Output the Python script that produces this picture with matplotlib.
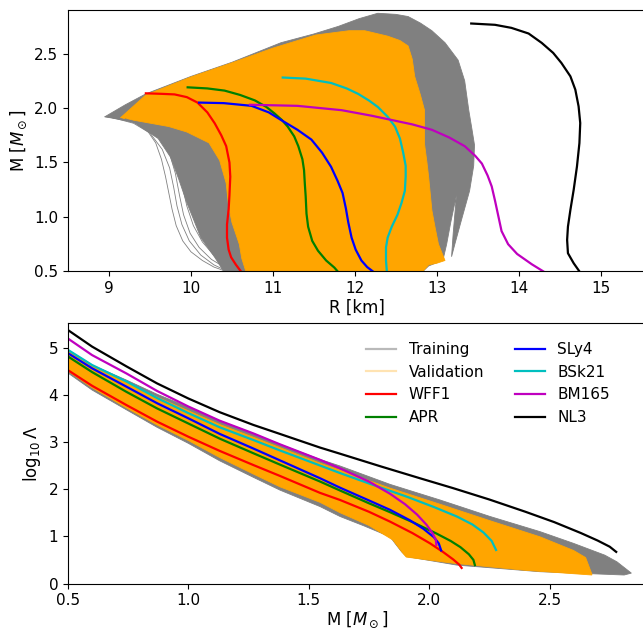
import numpy as np
import matplotlib
matplotlib.use("Agg")
import matplotlib.pyplot as plt
from matplotlib.lines import Line2D

# ---- mass-radius curves (R [km], M [Msun]) ----
wff1_r = [9.45, 9.65, 9.80, 9.95, 10.08, 10.20, 10.29, 10.37, 10.43, 10.47, 10.48, 10.47,
          10.46, 10.44, 10.44, 10.46, 10.49, 10.55, 10.61]
wff1_m = [2.135, 2.13, 2.125, 2.10, 2.05, 1.96, 1.86, 1.75, 1.65, 1.50, 1.37, 1.20,
          1.07, 0.93, 0.81, 0.70, 0.63, 0.56, 0.50]
apr_r = [9.96, 10.20, 10.41, 10.60, 10.78, 10.92, 11.02, 11.11, 11.18, 11.26, 11.31, 11.36,
         11.38, 11.39, 11.40, 11.41, 11.43, 11.48, 11.55, 11.65, 11.75, 11.79]
apr_m = [2.19, 2.18, 2.16, 2.12, 2.07, 2.01, 1.95, 1.89, 1.83, 1.74, 1.65, 1.53,
         1.43, 1.30, 1.19, 1.03, 0.91, 0.78, 0.69, 0.60, 0.535, 0.50]
sly4_r = [10.10, 10.40, 10.74, 10.95, 11.10, 11.30, 11.47, 11.60, 11.71, 11.79, 11.85,
          11.89, 11.92, 11.96, 12.01, 12.08, 12.15, 12.22]
sly4_m = [2.05, 2.045, 2.02, 1.96, 1.89, 1.80, 1.71, 1.59, 1.46, 1.33, 1.22,
          1.08, 0.95, 0.81, 0.70, 0.60, 0.54, 0.50]
bsk21_r = [11.12, 11.40, 11.71, 11.90, 12.04, 12.17, 12.28, 12.40, 12.49, 12.55, 12.59,
           12.62, 12.62, 12.61, 12.57, 12.52, 12.45, 12.40, 12.38, 12.38, 12.39]
bsk21_m = [2.28, 2.27, 2.23, 2.18, 2.13, 2.07, 2.01, 1.92, 1.83, 1.72, 1.59,
           1.47, 1.37, 1.24, 1.13, 1.02, 0.91, 0.81, 0.72, 0.60, 0.50]
bm165_r = [10.72, 11.30, 11.84, 12.20, 12.45, 12.70, 12.94, 13.15, 13.34, 13.47, 13.55,
           13.62, 13.67, 13.71, 13.75, 13.79, 13.87, 13.98, 14.16, 14.30]
bm165_m = [2.03, 2.02, 1.98, 1.93, 1.89, 1.85, 1.80, 1.73, 1.65, 1.56, 1.49,
           1.38, 1.28, 1.15, 1.01, 0.87, 0.75, 0.66, 0.565, 0.50]
nl3_r = [13.42, 13.71, 13.91, 14.12, 14.28, 14.42, 14.52, 14.63, 14.69, 14.73, 14.75,
         14.74, 14.71, 14.67, 14.63, 14.60, 14.59, 14.60, 14.67, 14.74]
nl3_m = [2.776, 2.764, 2.736, 2.684, 2.598, 2.506, 2.414, 2.291, 2.169, 2.015, 1.862,
         1.678, 1.463, 1.249, 1.065, 0.911, 0.789, 0.667, 0.575, 0.50]

# envelopes of the training / validation families in the M-R plane
train_r = [8.95, 9.20, 9.45, 10.0, 10.5, 11.1, 11.5, 11.8, 12.05, 12.28, 12.50, 12.65,
           12.80, 12.94, 13.10, 13.26, 13.34, 13.39, 13.43, 13.46, 13.45, 13.40, 13.30,
           13.22, 13.18, 13.20, 13.24, 13.17, 13.12, 13.08, 13.00, 12.90, 12.83,
           10.40, 10.29, 10.12, 10.02, 9.95, 9.85, 9.75, 9.60, 9.30, 8.95]
train_m = [1.92, 2.03, 2.13, 2.29, 2.42, 2.60, 2.68, 2.75, 2.82, 2.87, 2.86, 2.84,
           2.78, 2.71, 2.60, 2.44, 2.25, 1.98, 1.80, 1.66, 1.47, 1.24, 0.97,
           0.75, 0.635, 0.85, 1.20, 0.95, 0.75, 0.62, 0.58, 0.55, 0.50,
           0.50, 0.63, 0.81, 1.00, 1.13, 1.35, 1.55, 1.72, 1.87, 1.92]
val_r = [9.14, 9.45, 10.0, 10.5, 11.0, 11.52, 11.93, 12.12, 12.40, 12.55, 12.65, 12.70,
         12.73, 12.80, 12.85, 12.85, 12.88, 12.90, 12.94, 12.98, 13.02, 13.10, 13.00,
         12.90, 12.83, 10.67, 10.62, 10.59, 10.50, 10.46, 10.43, 10.35, 10.22, 9.95,
         9.73, 9.14]
val_m = [1.91, 2.12, 2.285, 2.415, 2.55, 2.67, 2.71, 2.71, 2.66, 2.62, 2.57, 2.45,
         2.29, 2.12, 1.98, 1.67, 1.50, 1.37, 1.06, 0.90, 0.75, 0.60, 0.575,
         0.56, 0.50, 0.50, 0.62, 0.75, 0.95, 1.10, 1.31, 1.52, 1.68, 1.78,
         1.83, 1.91]
# a few of the separated training curves on the low-R side
sparse_r = [[8.95, 9.15, 9.33, 9.47, 9.57, 9.64, 9.69, 9.73, 9.77, 9.82, 9.90, 10.0, 10.14, 10.28, 10.43],
            [9.05, 9.30, 9.50, 9.65, 9.74, 9.79, 9.83, 9.89, 9.98, 10.12, 10.28, 10.45],
            [9.10, 9.40, 9.60, 9.74, 9.81, 9.86, 9.91, 9.99, 10.10, 10.25, 10.45],
            [9.20, 9.50, 9.70, 9.82, 9.89, 9.95, 10.03, 10.14, 10.30, 10.50]]
sparse_m = [[1.92, 1.90, 1.86, 1.79, 1.68, 1.53, 1.37, 1.22, 1.07, 0.92, 0.78, 0.68, 0.60, 0.54, 0.50],
            [1.91, 1.86, 1.77, 1.62, 1.45, 1.27, 1.10, 0.93, 0.78, 0.65, 0.56, 0.50],
            [1.91, 1.85, 1.75, 1.58, 1.40, 1.20, 1.02, 0.85, 0.72, 0.61, 0.52],
            [1.90, 1.83, 1.71, 1.52, 1.30, 1.10, 0.92, 0.77, 0.63, 0.52]]

# ---- tidal deformability curves (M, log10 Lambda) ----
wff1_ml = [0.5, 0.6, 0.743, 0.87, 1.0, 1.13, 1.27, 1.38, 1.547, 1.63, 1.75, 1.838, 1.93,
           2.004, 2.06, 2.10, 2.125, 2.135]
wff1_l = [4.52, 4.19, 3.78, 3.43, 3.11, 2.81, 2.51, 2.28, 1.92, 1.77, 1.52, 1.31, 1.07,
          0.85, 0.66, 0.51, 0.40, 0.33]
apr_ml = [0.5, 0.6, 0.743, 0.87, 1.0, 1.13, 1.27, 1.38, 1.547, 1.63, 1.75, 1.838, 1.94,
          2.03, 2.09, 2.13, 2.165, 2.184, 2.19]
apr_l = [4.81, 4.48, 4.06, 3.71, 3.39, 3.07, 2.76, 2.52, 2.16, 1.97, 1.70, 1.51, 1.28,
         1.06, 0.90, 0.77, 0.62, 0.50, 0.39]
sly4_ml = [0.5, 0.6, 0.743, 0.87, 1.0, 1.13, 1.27, 1.38, 1.547, 1.63, 1.75, 1.838, 1.92,
           1.976, 2.02, 2.04, 2.05]
sly4_l = [4.88, 4.56, 4.17, 3.82, 3.50, 3.17, 2.86, 2.61, 2.23, 2.03, 1.76, 1.56, 1.34,
          1.16, 0.98, 0.85, 0.70]
bsk21_ml = [0.5, 0.6, 0.743, 0.87, 1.0, 1.13, 1.27, 1.38, 1.547, 1.63, 1.75, 1.907, 2.02,
            2.115, 2.18, 2.226, 2.26, 2.278]
bsk21_l = [4.95, 4.63, 4.28, 3.93, 3.61, 3.31, 3.04, 2.82, 2.50, 2.34, 2.12, 1.84, 1.62,
           1.42, 1.25, 1.08, 0.90, 0.71]
bm165_ml = [0.5, 0.6, 0.743, 0.87, 1.0, 1.13, 1.27, 1.38, 1.547, 1.63, 1.75, 1.838, 1.90,
            1.95, 1.99, 2.015, 2.028, 2.03]
bm165_l = [5.19, 4.84, 4.45, 4.08, 3.75, 3.45, 3.18, 2.95, 2.62, 2.44, 2.16, 1.90, 1.68,
           1.46, 1.24, 1.06, 0.92, 0.82]
nl3_ml = [0.5, 0.6, 0.743, 0.87, 1.0, 1.13, 1.27, 1.38, 1.547, 1.63, 1.80, 1.962, 2.10,
          2.25, 2.40, 2.52, 2.63, 2.70, 2.75, 2.777]
nl3_l = [5.37, 5.02, 4.60, 4.24, 3.92, 3.63, 3.36, 3.17, 2.88, 2.75, 2.48, 2.23, 2.02,
         1.78, 1.52, 1.30, 1.07, 0.91, 0.78, 0.67]

train_ml = [0.5, 0.6, 0.743, 0.87, 1.0, 1.13, 1.27, 1.38, 1.547, 1.63, 1.838, 2.045, 2.253,
            2.46, 2.6, 2.73, 2.78, 2.84, 2.81, 2.46, 2.115, 1.907, 1.886, 1.86, 1.838,
            1.73, 1.63, 1.547, 1.38, 1.27, 1.13, 1.0, 0.87, 0.743, 0.6, 0.5]
train_l = [4.95, 4.63, 4.31, 4.01, 3.74, 3.45, 3.18, 2.95, 2.63, 2.49, 2.10, 1.77, 1.42,
           1.10, 0.85, 0.60, 0.46, 0.22, 0.18, 0.25, 0.39, 0.57, 0.67, 0.84, 0.99,
           1.22, 1.42, 1.63, 1.98, 2.25, 2.60, 2.97, 3.31, 3.68, 4.10, 4.46]
val_ml = [0.5, 0.6, 0.743, 0.87, 1.0, 1.13, 1.27, 1.38, 1.547, 1.63, 1.838, 2.045, 2.253,
          2.46, 2.6, 2.65, 2.676, 2.676, 2.4, 2.1, 1.905, 1.893, 1.85, 1.75, 1.63, 1.547,
          1.38, 1.27, 1.13, 1.0, 0.87, 0.743, 0.6, 0.5]
val_l = [4.93, 4.60, 4.26, 3.95, 3.66, 3.37, 3.10, 2.88, 2.55, 2.40, 2.02, 1.68, 1.33,
         0.99, 0.70, 0.55, 0.20, 0.18, 0.28, 0.43, 0.56, 0.63, 0.92, 1.23, 1.50, 1.72,
         2.05, 2.32, 2.67, 3.03, 3.36, 3.72, 4.15, 4.50]

names = ["WFF1", "APR", "SLy4", "BSk21", "BM165", "NL3"]
colors = ["r", "g", "b", "c", "m", "k"]
mr_curves = [(wff1_r, wff1_m), (apr_r, apr_m), (sly4_r, sly4_m),
             (bsk21_r, bsk21_m), (bm165_r, bm165_m), (nl3_r, nl3_m)]
ml_curves = [(wff1_ml, wff1_l), (apr_ml, apr_l), (sly4_ml, sly4_l),
             (bsk21_ml, bsk21_l), (bm165_ml, bm165_l), (nl3_ml, nl3_l)]

W, H = 643, 631
fig = plt.figure(figsize=(W / 100, H / 100), dpi=100)
ax1 = fig.add_axes([68 / W, (H - 271.4) / H, 577.8 / W, 261.4 / H])
ax2 = fig.add_axes([68 / W, (H - 583.5) / H, 577.8 / W, 260.5 / H])

# top: M-R
ax1.fill(train_r, train_m, color="gray", lw=0.6)
for r, m in zip(sparse_r, sparse_m):
    ax1.plot(r, m, color="gray", lw=0.6)
ax1.fill(val_r, val_m, color="orange", lw=0.6)
for (r, m), c in zip(mr_curves, colors):
    ax1.plot(r, m, color=c, lw=1.6)
ax1.set_xlim(8.5, 15.55)
ax1.set_ylim(0.5, 2.9)
ax1.set_xticks([9, 10, 11, 12, 13, 14, 15])
ax1.set_yticks([0.5, 1.0, 1.5, 2.0, 2.5])
ax1.set_xlabel("R [km]", fontsize=12, labelpad=2)
ax1.set_ylabel(r"M [$M_\odot$]", fontsize=12)

# bottom: log Lambda - M
ax2.fill(train_ml, train_l, color="gray", lw=0.6)
ax2.fill(val_ml, val_l, color="orange", lw=0.6)
for (m, l), c, n in zip(ml_curves, colors, names):
    ax2.plot(m, l, color=c, lw=1.6, label=n)
ax2.set_xlim(0.5, 2.9)
ax2.set_ylim(0, 5.52)
ax2.set_xticks([0.5, 1.0, 1.5, 2.0, 2.5])
ax2.set_yticks([0, 1, 2, 3, 4, 5])
ax2.set_xlabel(r"M [$M_\odot$]", fontsize=12, labelpad=1)
ax2.set_ylabel(r"$\log_{10}\Lambda$", fontsize=12)

handles = [Line2D([], [], color="gray", alpha=0.55, lw=1.6),
           Line2D([], [], color="orange", alpha=0.3, lw=1.6)]
handles += ax2.get_legend_handles_labels()[0]
labels = ["Training", "Validation"] + names
ax2.legend(handles, labels, ncol=2, frameon=False, fontsize=11,
           loc="upper right", bbox_to_anchor=(0.962, 0.98))

for ax in (ax1, ax2):
    ax.tick_params(labelsize=11)

fig.savefig("out.png", dpi=100)
